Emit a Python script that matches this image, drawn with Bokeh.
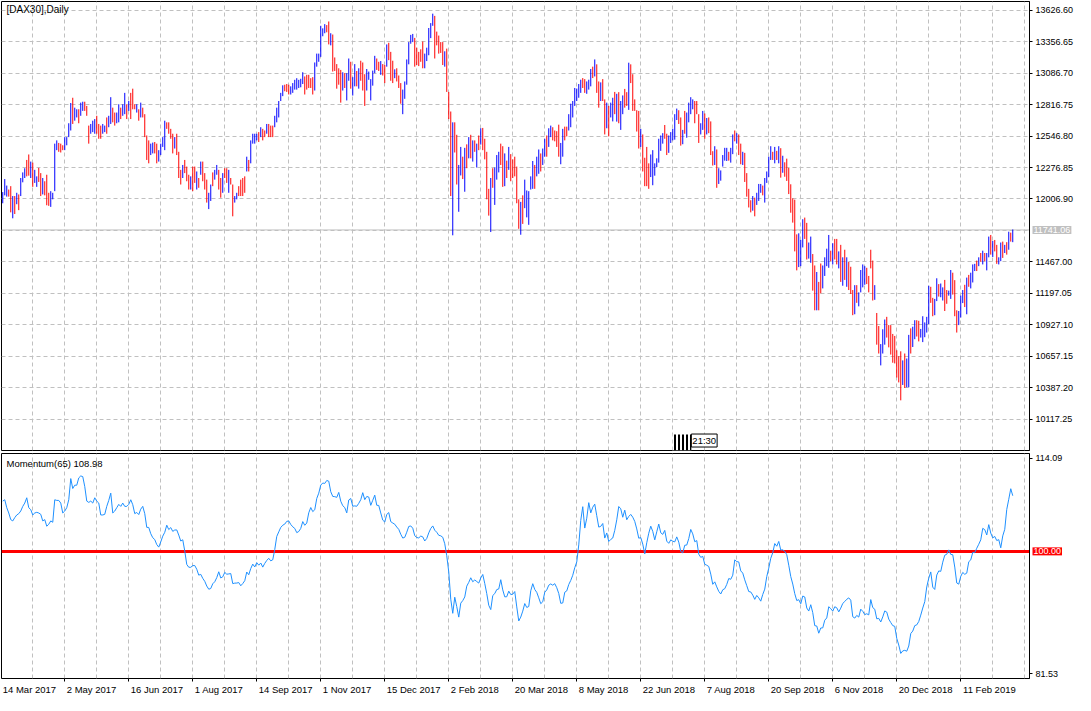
from bokeh.plotting import figure
from bokeh.models import (Range1d, FixedTicker, LinearAxis, Grid, Span, Label,
                          BoxAnnotation, ColumnDataSource, PrintfTickFormatter)
from bokeh.core.properties import value
from bokeh.layouts import column
from bokeh.embed import file_html
from bokeh.resources import INLINE

# ---------------- data ----------------
symbol_title = "[DAX30],Daily"
indicator_title = "Momentum(65) 108.98"
last_price = 11741.06
level_value = 100.0
mom_period = 65

date_labels = ["14 Mar 2017", "2 May 2017", "16 Jun 2017", "1 Aug 2017", "14 Sep 2017",
               "1 Nov 2017", "15 Dec 2017", "2 Feb 2018", "20 Mar 2018", "8 May 2018",
               "22 Jun 2018", "7 Aug 2018", "20 Sep 2018", "6 Nov 2018", "20 Dec 2018",
               "11 Feb 2019"]
date_label_bars = [0, 32, 64, 96, 128, 160, 192, 224, 256, 288, 320, 352, 384, 416, 448, 480]
grid_bars = [0, 16, 32, 48, 64, 80, 96, 112, 128, 144, 160, 176, 192, 208, 224, 240, 256,
             272, 288, 304, 320, 336, 352, 368, 384, 400, 416, 432, 448, 464, 480, 496, 512]
price_ticks = [10117.25, 10387.20, 10657.15, 10927.10, 11197.05, 11467.00, 11736.95,
               12006.90, 12276.85, 12546.80, 12816.75, 13086.70, 13356.65, 13626.60]
price_view = [9847.30, 13702.50]
mom_ticks = [81.53, 114.09]
mom_view = [80.79, 114.79]

bar_hi = [
    12066, 12178, 12122, 12088, 12117, 12032, 12032, 12060, 12046, 12187,
    12235, 12271, 12342, 12389, 12328, 12319, 12257, 12201, 12274, 12229,
    12187, 12159, 12215, 12060, 12074, 12060, 12482, 12510, 12488, 12482,
    12468, 12538, 12538, 12657, 12831, 12876, 12791, 12777, 12777, 12834,
    12842, 12842, 12806, 12637, 12651, 12679, 12693, 12721, 12651, 12637,
    12651, 12637, 12707, 12721, 12881, 12791, 12749, 12749, 12820, 12791,
    12820, 12918, 12820, 12848, 12918, 12954, 12820, 12820, 12777, 12834,
    12791, 12735, 12552, 12510, 12482, 12491, 12496, 12482, 12426, 12482,
    12538, 12679, 12665, 12665, 12609, 12567, 12538, 12567, 12412, 12257,
    12299, 12342, 12285, 12215, 12201, 12285, 12285, 12243, 12187, 12328,
    12328, 12229, 12173, 12060, 12131, 12235, 12257, 12299, 12257, 12187,
    12229, 12271, 12271, 12257, 12187, 12131, 12032, 12060, 12117, 12173,
    12187, 12201, 12370, 12342, 12510, 12567, 12567, 12567, 12581, 12623,
    12609, 12595, 12651, 12651, 12637, 12637, 12721, 12791, 12848, 12918,
    12983, 12988, 12994, 12988, 12974, 13002, 13030, 13044, 13030, 13039,
    13095, 13059, 13073, 13073, 13044, 13053, 13179, 13255, 13255, 13494,
    13472, 13508, 13500, 13531, 13430, 13419, 13222, 13165, 13129, 13115,
    13095, 13087, 13087, 13213, 13185, 13053, 13165, 13106, 13129, 13194,
    13179, 13078, 13123, 13101, 13036, 13109, 13236, 13213, 13185, 13191,
    13165, 13157, 13334, 13348, 13270, 13194, 13120, 13129, 13067, 13002,
    12946, 13016, 13205, 13354, 13416, 13424, 13390, 13306, 13270, 13292,
    13359, 13255, 13306, 13475, 13517, 13598, 13579, 13444, 13410, 13354,
    13354, 13275, 13298, 12926, 12758, 12665, 12665, 12558, 12299, 12454,
    12370, 12446, 12476, 12538, 12558, 12510, 12510, 12482, 12552, 12614,
    12617, 12524, 12412, 12094, 12187, 12271, 12277, 12384, 12412, 12482,
    12460, 12398, 12336, 12454, 12392, 12347, 12370, 12285, 12004, 11982,
    12038, 12173, 12080, 12074, 12201, 12333, 12299, 12370, 12432, 12398,
    12440, 12524, 12552, 12614, 12637, 12623, 12595, 12589, 12645, 12488,
    12609, 12628, 12628, 12735, 12825, 12848, 12960, 12955, 12994, 13031,
    13045, 13036, 13016, 13031, 13123, 13143, 13205, 13163, 13016, 13008,
    13036, 12862, 12834, 12806, 12834, 12876, 12926, 12910, 12924, 12848,
    12896, 12952, 12924, 13177, 13163, 13078, 12862, 12769, 12763, 12609,
    12561, 12361, 12454, 12313, 12389, 12426, 12313, 12356, 12524, 12552,
    12572, 12642, 12567, 12552, 12581, 12609, 12735, 12783, 12769, 12707,
    12600, 12763, 12749, 12834, 12881, 12862, 12848, 12848, 12735, 12657,
    12763, 12741, 12702, 12707, 12673, 12417, 12460, 12432, 12271, 12252,
    12384, 12446, 12446, 12412, 12446, 12561, 12595, 12572, 12561, 12482,
    12412, 12403, 12229, 12094, 11996, 12032, 12018, 12060, 12136, 12136,
    12122, 12187, 12243, 12370, 12460, 12412, 12454, 12420, 12460, 12443,
    12378, 12322, 12353, 12274, 12133, 12013, 12001, 11703, 11712, 11655,
    11833, 11847, 11802, 11633, 11684, 11534, 11436, 11380, 11295, 11453,
    11436, 11506, 11580, 11698, 11563, 11627, 11664, 11664, 11557, 11613,
    11506, 11571, 11506, 11467, 11425, 11225, 11267, 11267, 11205, 11397,
    11445, 11430, 11416, 11346, 11571, 11478, 11267, 11028, 10916, 10761,
    10888, 10972, 10995, 10924, 10924, 10848, 10831, 10708, 10657, 10699,
    10621, 10680, 10637, 10840, 10896, 10910, 10966, 10966, 10961, 10891,
    11000, 10947, 10995, 11262, 11253, 11158, 11149, 11326, 11276, 11281,
    11248, 11312, 11225, 11220, 11397, 11374, 11310, 11051, 11045, 11177,
    11225, 11270, 11332, 11355, 11374, 11445, 11450, 11478, 11506, 11543,
    11563, 11543, 11543, 11684, 11698, 11647, 11655, 11613, 11506, 11633,
    11641, 11613, 11636, 11726, 11718, 11745,
]
bar_lo = [
    11970, 12038, 12027, 12027, 11892, 11841, 11878, 11962, 11911, 12032,
    12150, 12187, 12201, 12207, 12187, 12111, 12145, 12111, 12153, 12032,
    12046, 12038, 11953, 11948, 11939, 12004, 12074, 12426, 12412, 12406,
    12426, 12426, 12468, 12538, 12595, 12651, 12679, 12707, 12657, 12721,
    12763, 12763, 12721, 12482, 12567, 12581, 12567, 12567, 12524, 12524,
    12567, 12581, 12567, 12623, 12651, 12665, 12637, 12657, 12665, 12693,
    12721, 12735, 12693, 12763, 12693, 12777, 12777, 12749, 12679, 12707,
    12707, 12538, 12342, 12313, 12384, 12398, 12398, 12313, 12328, 12384,
    12454, 12426, 12609, 12567, 12524, 12398, 12440, 12384, 12187, 12131,
    12187, 12229, 12159, 12088, 12088, 12074, 12145, 12088, 12103, 12215,
    12159, 12088, 11976, 11920, 11990, 12117, 12173, 12215, 12088, 12018,
    12060, 12187, 12145, 12060, 12131, 11858, 11976, 12004, 12032, 12032,
    12032, 12060, 12243, 12243, 12313, 12482, 12482, 12510, 12496, 12538,
    12510, 12538, 12567, 12538, 12538, 12538, 12623, 12665, 12707, 12848,
    12890, 12932, 12926, 12904, 12904, 12918, 12946, 12946, 12960, 12966,
    12994, 12904, 12946, 12960, 12960, 12904, 12938, 13143, 13185, 13227,
    13404, 13430, 13438, 13334, 13326, 13101, 13106, 12954, 12988, 12834,
    12938, 12960, 12853, 13022, 12954, 12895, 12974, 12974, 12954, 13022,
    12938, 12806, 12938, 13030, 12853, 12980, 13087, 13115, 13106, 13073,
    13067, 13002, 13143, 13199, 13022, 13002, 13044, 13016, 12960, 12825,
    12735, 12867, 12988, 13163, 13340, 13354, 13143, 13157, 13148, 13185,
    13129, 13129, 13191, 13241, 13388, 13494, 13213, 13326, 13255, 13261,
    13157, 13143, 12926, 12693, 12032, 11695, 12406, 12131, 11897, 12209,
    12178, 12069, 12271, 12356, 12356, 12328, 12412, 12277, 12426, 12474,
    12426, 12347, 12004, 11864, 11723, 12103, 11956, 12173, 12235, 12299,
    12111, 12117, 12187, 12257, 12159, 12187, 12201, 11970, 11751, 11700,
    11793, 11928, 11849, 11785, 12088, 12094, 12094, 12201, 12223, 12243,
    12299, 12370, 12370, 12454, 12538, 12510, 12502, 12454, 12370, 12305,
    12370, 12510, 12544, 12595, 12623, 12707, 12806, 12848, 12876, 12918,
    12960, 12918, 12910, 12946, 12974, 13045, 13059, 12918, 12791, 12848,
    12848, 12561, 12614, 12544, 12707, 12673, 12735, 12671, 12657, 12600,
    12735, 12791, 12806, 12772, 13002, 12763, 12763, 12586, 12440, 12454,
    12243, 12117, 12117, 12094, 12195, 12125, 12207, 12280, 12319, 12420,
    12482, 12524, 12384, 12403, 12488, 12510, 12516, 12685, 12651, 12465,
    12477, 12567, 12533, 12665, 12735, 12777, 12657, 12735, 12488, 12561,
    12600, 12524, 12561, 12572, 12384, 12294, 12299, 12103, 12136, 12164,
    12285, 12336, 12333, 12336, 12319, 12392, 12502, 12482, 12384, 12305,
    12299, 12153, 12027, 11934, 11892, 11906, 11858, 11956, 11990, 12060,
    12038, 11976, 12145, 12195, 12342, 12342, 12313, 12342, 12313, 12190,
    12232, 12198, 12162, 12049, 11889, 11804, 11557, 11394, 11422, 11430,
    11591, 11664, 11487, 11495, 11459, 11220, 11051, 11051, 11051, 11197,
    11239, 11346, 11430, 11416, 11473, 11445, 11487, 11445, 11411, 11295,
    11262, 11312, 11253, 11225, 11191, 11009, 11017, 11115, 11085, 11205,
    11248, 11270, 11276, 11205, 11411, 11135, 11141, 10756, 10680, 10578,
    10680, 10756, 10817, 10733, 10671, 10601, 10595, 10474, 10432, 10278,
    10410, 10384, 10390, 10390, 10680, 10736, 10803, 10826, 10784, 10817,
    10778, 10820, 10860, 10933, 11115, 11000, 11009, 11130, 11169, 11163,
    11135, 11045, 11107, 11177, 11149, 11186, 11000, 10860, 10924, 10989,
    11113, 11079, 11017, 11253, 11239, 11290, 11388, 11388, 11430, 11467,
    11445, 11473, 11394, 11506, 11529, 11509, 11557, 11450, 11445, 11473,
    11501, 11543, 11529, 11571, 11641, 11636,
]
# b = bar closed up (blue), r = bar closed down (red)
bar_dir = ("bbbrrbrbrb" "bbrrbrbbrr" "brrrbbbbrr" "rbbbbrbbrb" "brrrbbbrrr"
           "bbrbbrrbbr" "bbrbrrrbrb" "rrrrbbrrbb" "bbrrrrbrrr" "brrrbrrbrb"
           "rrrbbrbbrr" "brrbrrbbrr" "rrbrbbbbrb" "rrbrrrbbbb" "brrrbbbbbb"
           "brrrrrbbbb" "bbrrbrrrrr" "brbbrbbrbr" "rrbbbbbrrb" "rrbrrrbrrr"
           "bbbbbbrrrr" "rbbbbbrrrr" "rbrrrbrrbb" "rbrbrbrbrb" "rrrrbrbbbr"
           "rbrbrrrrrb" "rbbbbbrbbr" "bbrbbrrrrb" "brrbbbbbbb" "rrbbbrbrrb"
           "rrbrbbrbrb" "brrbrrrrrb" "rrrrbbbbbb" "brrbbbbbrr" "brbbbbrrrb"
           "brbrrrbrbb" "bbbrbbrbrr" "brrrrbrbbb" "rbbbbrbrbr" "brrrrrrrbb"
           "brrbbrrbrr" "bbbbrbrrbr" "brbrrrbrbb" "bbrrrrbrrb" "bbrrrrrrrr"
           "brbbrbbrrb" "bbbbrrbbrb" "brrbbrrrbb" "brbrbbbrbr" "brbbrbrrbb"
           "rbrbrb")
# momentum of the first 65 visible bars (its earlier prices are off the chart)
mom_head = [107.6, 107.8, 106.6, 105.8, 104.8, 104.6, 105.1, 105.5, 105.7, 106.1,
            106.8, 107.3, 108.1, 106.6, 106.3, 105.5, 105.8, 105.9, 105.8, 105.6,
            104.6, 104.8, 103.8, 104.1, 104.6, 104.4, 107.8, 107.7, 107.7, 107.3,
            105.8, 106.1, 106.6, 107.8, 111.0, 109.5, 110.0, 110.0, 111.1, 111.4,
            111.3, 109.8, 107.6, 107.4, 107.6, 107.3, 108.1, 107.6, 107.3, 105.5,
            105.5, 105.6, 106.8, 107.7, 108.8, 105.8, 106.1, 106.6, 107.1, 106.8,
            107.3, 106.8, 106.8, 107.1, 107.8]

# ---------------- derived series ----------------
n = len(bar_hi)
assert len(bar_lo) == n and len(bar_dir) == n, (len(bar_hi), len(bar_lo), len(bar_dir))
xs = list(range(1, n + 1))
colors = ["#0000FF" if d == "b" else "#FF0000" for d in bar_dir]
median = [(h + l) / 2.0 for h, l in zip(bar_hi, bar_lo)]          # momentum applied to median price
mom = list(mom_head) + [median[i] / median[i - mom_period] * 100.0
                        for i in range(len(mom_head), n)]
src = ColumnDataSource(dict(x=xs, hi=bar_hi, lo=bar_lo, color=colors, mom=mom))

# ---------------- styling / layout ----------------
FONT = "Liberation Sans"
FS = "9px"
GRID = "#C0C0C0"
FRAME_W = 1028
RB = 46
X0, X1 = 0.375, 514.375
PX_PER_BAR = FRAME_W / (X1 - X0)

xr = Range1d(X0, X1)


def style_right_axis(ax, ticks):
    ax.ticker = FixedTicker(ticks=ticks)
    ax.formatter = PrintfTickFormatter(format="%.2f")
    ax.major_tick_out = 3
    ax.major_tick_in = 0
    ax.minor_tick_out = 0
    ax.minor_tick_in = 0
    ax.major_label_standoff = 3
    ax.axis_line_color = "black"
    ax.major_tick_line_color = "black"
    ax.major_label_text_font = FONT
    ax.major_label_text_font_size = FS
    ax.major_label_text_color = "black"


def base_fig(frame_h, yr, top, bottom):
    f = figure(frame_width=FRAME_W, frame_height=frame_h, x_range=xr, y_range=yr,
               output_backend="svg", toolbar_location=None,
               x_axis_location=None, y_axis_location="right",
               min_border_left=1, min_border_right=RB,
               min_border_top=top, min_border_bottom=bottom,
               background_fill_color="white", border_fill_color="white",
               outline_line_color="black", outline_line_width=1)
    f.grid.visible = False
    f.add_layout(Grid(dimension=0, ticker=FixedTicker(ticks=grid_bars),
                      grid_line_color=GRID, grid_line_dash="4 3", grid_line_width=1))
    return f


def axis_badge(f, y, text, fill):
    """coloured value badge drawn over the right price scale"""
    s = ColumnDataSource(dict(x=[X1], y=[y], t=[text]))
    f.text(x="x", y="y", text="t", source=s, x_offset=3, text_baseline="middle",
           text_align="left", text_font=value(FONT), text_font_size=FS,
           text_color="white", background_fill_color=fill, padding=1,
           level="overlay")


# ---- price pane ----
p = base_fig(449, Range1d(price_view[0], price_view[1]), 1, 1)
p.add_layout(Grid(dimension=1, ticker=FixedTicker(ticks=price_ticks),
                  grid_line_color=GRID, grid_line_dash="4 3", grid_line_width=1))
style_right_axis(p.yaxis[0], [t for t in price_ticks if abs(t - last_price) > 60])
p.add_layout(Span(location=last_price, dimension="width", line_color="#C0C0C0",
                  line_width=1, level="underlay"))
p.segment(x0="x", y0="lo", x1="x", y1="hi", line_color="color", line_width=1, source=src)

p.add_layout(Label(x=X0, y=price_view[1], x_offset=5, y_offset=-2, text=symbol_title,
                   text_baseline="top", text_align="left", text_font=FONT,
                   text_font_size="10px", text_color="black"))
axis_badge(p, last_price, "%.2f" % last_price, "#C0C0C0")
# time marker at the bottom of the price pane
p.add_layout(BoxAnnotation(left=336, right=345.3, bottom=price_view[0], top=9984,
                           fill_color="white", fill_alpha=1.0, line_color=None,
                           hatch_pattern="|", hatch_scale=4, hatch_weight=2,
                           hatch_color="black"))
p.add_layout(Label(x=345.3, y=9933, text="21:30", text_baseline="middle",
                   text_align="left", text_font=FONT, text_font_size="9.5px",
                   text_color="black", background_fill_color="white",
                   border_line_color="black", padding=1))

# ---- momentum pane ----
m = base_fig(225, Range1d(mom_view[0], mom_view[1]), 2, 15)
style_right_axis(m.yaxis[0], mom_ticks)
m.add_layout(Span(location=level_value, dimension="width", line_color="#FF0000",
                  line_width=3, level="underlay"))
m.line(x="x", y="mom", line_color="#1E90FF", line_width=1, source=src)
m.add_layout(Label(x=X0, y=mom_view[1], x_offset=5, y_offset=-4, text=indicator_title,
                   text_baseline="top", text_align="left", text_font=FONT,
                   text_font_size="9.5px", text_color="black"))
axis_badge(m, level_value, "%.2f" % level_value, "#FF0000")

# date axis: tick marks at the bars, labels starting at the tick (MetaTrader style)
CW = {" ": 0.278, "M": 0.833, "a": 0.556, "r": 0.333, "y": 0.5, "J": 0.5, "u": 0.556,
      "n": 0.556, "A": 0.667, "g": 0.556, "S": 0.667, "e": 0.556, "p": 0.556, "N": 0.722,
      "o": 0.556, "v": 0.5, "D": 0.722, "c": 0.5, "F": 0.611, "b": 0.556}
DATE_FS = 9.5


def text_px(s):
    return sum(CW.get(ch, 0.556) for ch in s) * DATE_FS


tick_ax = LinearAxis(ticker=FixedTicker(ticks=date_label_bars),
                     major_label_overrides={b: "" for b in date_label_bars},
                     major_label_text_font_size="0px", major_label_standoff=0,
                     major_tick_out=3, major_tick_in=0, minor_tick_out=0, minor_tick_in=0,
                     axis_line_color=None, major_tick_line_color="black")
m.add_layout(tick_ax, "below")
lab_pos = [b + 1 + text_px(s) / 2.0 / PX_PER_BAR for b, s in zip(date_label_bars, date_labels)]
lab_ax = LinearAxis(ticker=FixedTicker(ticks=lab_pos),
                    major_label_overrides={pos: s for pos, s in zip(lab_pos, date_labels)},
                    major_label_text_font=FONT, major_label_text_font_size="%gpx" % DATE_FS,
                    major_label_text_color="black", major_label_standoff=2,
                    major_tick_out=0, major_tick_in=0, minor_tick_out=0, minor_tick_in=0,
                    axis_line_color=None, major_tick_line_color=None)
m.add_layout(lab_ax, "below")

layout = column(p, m, spacing=0)
open("out.html", "w").write(file_html(layout, INLINE))
